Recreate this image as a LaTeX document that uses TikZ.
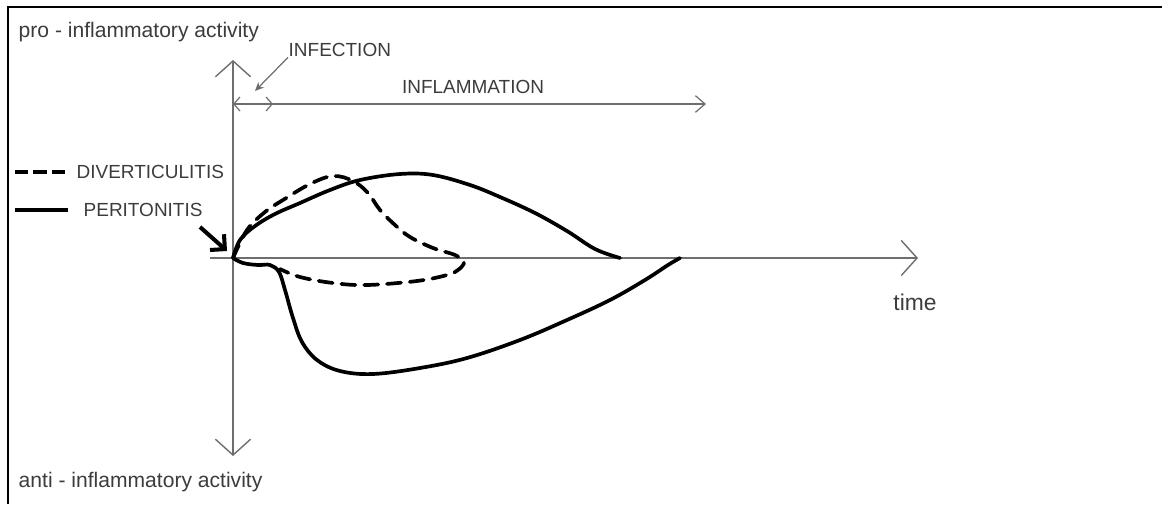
\documentclass[tikz,border=0pt]{standalone}
\usepackage{fontspec}
\setmainfont{Liberation Sans}
\usetikzlibrary{arrows.meta}
\definecolor{axisgray}{HTML}{6E6E6E}
\definecolor{textgray}{HTML}{3C3C3C}

\begin{document}
\begin{tikzpicture}[x=0.02cm,y=-0.02cm,line width=0.8pt,
  axis/.style={draw=axisgray,line width=0.8pt},
  curve/.style={line width=2.1pt,line cap=round,line join=round},
  dashcurve/.style={curve,dash pattern=on 8pt off 5pt},
  lbl/.style={text=textgray,inner sep=0pt,font=\fontsize{12}{14}\selectfont},
  caps/.style={text=textgray,inner sep=0pt,font=\fontsize{10.8}{13}\selectfont}]
\useasboundingbox (0,0) rectangle (1162,504);
% ---------- frame ----------
\draw[line width=1.7pt] (8,504) -- (8,7) -- (1162,7);
% ---------- axes ----------
\coordinate (O) at (233,258);
\coordinate (yTop) at (233,60);
\coordinate (yBot) at (233,456);
\coordinate (xLeft) at (210,258);
\coordinate (xRight) at (918,258);
\draw[axis,{Straight Barb[length=9pt,width=20pt]}-{Straight Barb[length=9pt,width=20pt]}] (yBot) -- (yTop);
\draw[axis,-{Straight Barb[length=9pt,width=20pt]}] (xLeft) -- (xRight);
\node[lbl,anchor=west] (pro) at (18,32) {pro - inflammatory activity};
\node[lbl,anchor=west] (anti) at (18,482) {anti - inflammatory activity};
\node[lbl,font=\fontsize{13}{15}\selectfont] (time) at (915,302) {time};
% ---------- infection / inflammation ----------
\coordinate (phaseStart) at (233,104);
\coordinate (infEnd) at (273,104);
\coordinate (inflEnd) at (706,104);
\coordinate (infTip) at (255,91);
\draw[axis,line width=0.7pt,-{Straight Barb[length=5.5pt,width=9.5pt]}] (phaseStart) -- (inflEnd);
\draw[axis,line width=0.7pt,{Straight Barb[length=3.5pt,width=8pt]}-{Straight Barb[length=3.5pt,width=8pt]}] (phaseStart) -- (infEnd);
\node[caps,anchor=west] (infection) at (288,50) {INFECTION};
\node[caps] (inflammation) at (473,87) {INFLAMMATION};
\draw[axis,line width=0.7pt,-{Stealth[length=5pt,width=4.5pt]}] (infection.south west) -- (infTip);
% ---------- legend ----------
\coordinate (dashA) at (15,172);
\coordinate (dashB) at (70,172);
\coordinate (solidA) at (15,210);
\coordinate (solidB) at (68,210);
\draw[line width=2pt,dash pattern=on 7.5pt off 3pt] (dashA) -- (dashB);
\draw[line width=2pt] (solidA) -- (solidB);
\node[caps,anchor=west] (divert) at (76,172) {DIVERTICULITIS};
\node[caps,anchor=west] (perit) at (83,210) {PERITONITIS};
\coordinate (onsetTail) at (200,227);
\coordinate (onsetTip) at (227,251);
\draw[line width=2.3pt,-{Straight Barb[length=6pt,width=12pt]}] (onsetTail) -- (onsetTip);
% ---------- peritonitis ----------
\draw[curve] plot[smooth,tension=0.6] coordinates {(233,258) (240,240) (255,226) (275,214) (300,203) (330,190) (360,180) (400,174) (433,175) (470,185) (500,197) (535,213) (567,231) (595,249) (620,258)};
\draw[curve] plot[smooth,tension=0.6] coordinates {(233,258) (243,263) (258,265) (270,265) (279,272) (285,290) (293,318) (302,342) (317,360) (340,371) (373,374) (420,368) (467,358) (520,340) (567,320) (610,300) (645,280) (668,265) (680,258)};
% ---------- diverticulitis ----------
\draw[dashcurve] plot[smooth,tension=0.6] coordinates {(233,258) (247,230) (265,212) (283,200) (310,184) (333,176) (353,181) (368,193) (380,210) (395,225) (410,237) (433,248) (455,255) (464,262) (458,270) (447,275) (417,281) (367,285) (333,283) (300,277) (280,269)};
\end{tikzpicture}
\end{document}
